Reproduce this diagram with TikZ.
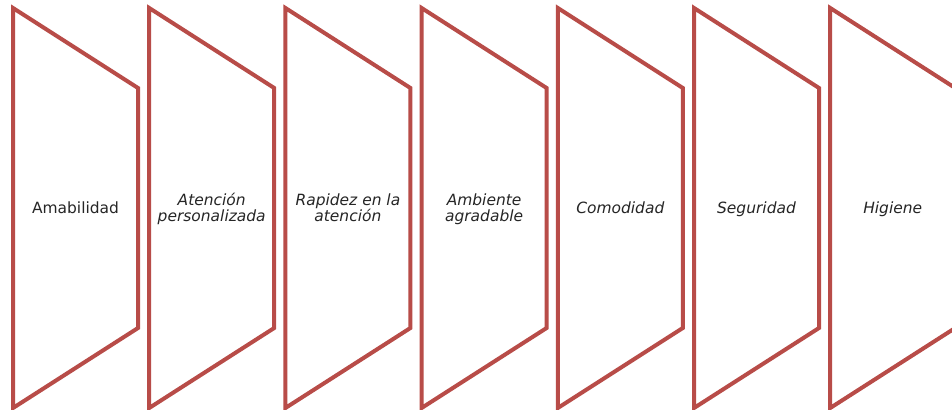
\documentclass[tikz,border=0pt]{standalone}
\usepackage{fontspec}
\setmainfont{DejaVu Sans}
\definecolor{brickred}{RGB}{184,76,72}
\begin{document}
\begin{tikzpicture}[x=0.75pt,y=-0.75pt,
  funnel/.style={draw=brickred,line width=3pt,fill=white},
  label/.style={align=center,font=\fontsize{11.6}{11.8}\selectfont\itshape,text=black!85,text depth=0.25em}]
\useasboundingbox (0,0) rectangle (952,410);
\clip (0,0) rectangle (952,410);
\draw[funnel] (13,8) -- (138,88) -- (138,328) -- (13,408) -- cycle;
\draw[funnel] (149.2,8) -- (274.2,88) -- (274.2,328) -- (149.2,408) -- cycle;
\draw[funnel] (285.4,8) -- (410.4,88) -- (410.4,328) -- (285.4,408) -- cycle;
\draw[funnel] (421.6,8) -- (546.6,88) -- (546.6,328) -- (421.6,408) -- cycle;
\draw[funnel] (557.8,8) -- (682.8,88) -- (682.8,328) -- (557.8,408) -- cycle;
\draw[funnel] (694,8) -- (819,88) -- (819,328) -- (694,408) -- cycle;
\draw[funnel] (830.2,8) -- (955.2,88) -- (955.2,328) -- (830.2,408) -- cycle;
\node[label,font=\fontsize{11.6}{11.8}\selectfont] (amab) at (75.5,209) {Amabilidad};
\node[label] (aten) at (211.7,209) {Atención\\personalizada};
\node[label] (rapi) at (347.9,209) {Rapidez en la\\atención};
\node[label] (ambi) at (484.1,209) {Ambiente\\agradable};
\node[label] (como) at (620.3,209) {Comodidad};
\node[label] (segu) at (756.5,209) {Seguridad};
\node[label] (higi) at (892.7,209) {Higiene};
\end{tikzpicture}
\end{document}
